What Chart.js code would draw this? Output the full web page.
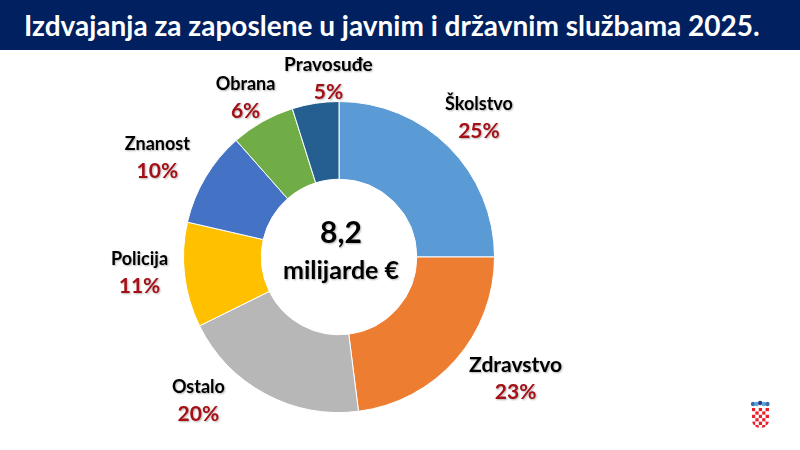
<!DOCTYPE html>
<html>
<head>
<meta charset="utf-8">
<title>Izdvajanja za zaposlene</title>
<script src="https://cdn.jsdelivr.net/npm/chart.js@4"></script>
<style>
  html, body { margin: 0; padding: 0; background: #fff; }
  #wrap { position: relative; width: 800px; height: 450px; overflow: hidden; }
  #header {
    position: absolute; left: 0; top: 0; width: 800px; height: 50px;
    background: #002060; color: #fff; font: bold 28px Lato, sans-serif;
    line-height: 50px; padding-left: 24px; box-sizing: border-box; white-space: nowrap;
  }
  #c { position: absolute; left: 0; top: 0; }
</style>
</head>
<body>
<div id="wrap">
  <canvas id="c" width="800" height="450"></canvas>
  <div id="header">Izdvajanja za zaposlene u javnim i državnim službama 2025.</div>
</div>
<script>
var categories = ['Školstvo', 'Zdravstvo', 'Ostalo', 'Policija', 'Znanost', 'Obrana', 'Pravosuđe'];
// slice sizes as measured on the picture, the printed labels are rounded differently
var sliceValues = [25, 23, 19.7, 10.9, 9.9, 6.65, 4.85];
var percentLabels = ['25%', '23%', '20%', '11%', '10%', '6%', '5%'];
var colors = ['#5b9bd5', '#ed7d31', '#b7b7b7', '#ffc000', '#4472c4', '#70ad47', '#255e91'];
var centerLines = ['8,2', 'milijarde €'];

// label offset from the outer edge of the ring, at the middle of each slice
var labelDx = [30, 60, -67, -45, -48, -17, 13];
var labelDy = [-30, 18, 6, -3, -20, -24, -25];
var labelSize = [18, 21, 18, 18, 18, 18, 19];

// labels and the centre text
var textPlugin = {
  id: 'textPlugin',
  afterDatasetsDraw: function(chart) {
    var ctx = chart.ctx;
    var arcs = chart.getDatasetMeta(0).data;
    ctx.save();
    ctx.textAlign = 'center';
    ctx.textBaseline = 'middle';
    ctx.shadowColor = 'rgba(0,0,0,0.3)';
    ctx.shadowBlur = 2;
    ctx.shadowOffsetX = 1;
    ctx.shadowOffsetY = 1;
    arcs.forEach(function(arc, i) {
      var mid = (arc.startAngle + arc.endAngle) / 2;
      var x = arc.x + Math.cos(mid) * arc.outerRadius + labelDx[i];
      var y = arc.y + Math.sin(mid) * arc.outerRadius + labelDy[i];
      ctx.fillStyle = '#000';
      ctx.font = 'bold ' + labelSize[i] + 'px Lato';
      ctx.fillText(categories[i], x, y - 13);
      ctx.fillStyle = '#a50f15';
      ctx.font = 'bold 21px Lato';
      ctx.fillText(percentLabels[i], x, y + 14);
    });
    var a = arcs[0];
    ctx.fillStyle = '#000';
    ctx.font = 'bold 30px Lato';
    ctx.fillText(centerLines[0], a.x + 2, a.y - 24);
    ctx.font = 'bold 25px Lato';
    ctx.fillText(centerLines[1], a.x + 2, a.y + 14);
    ctx.restore();
  }
};

// little coat of arms in the corner
var arms = {
  id: 'arms',
  afterDraw: function(chart) {
    var ctx = chart.ctx;
    var s = 3.4, x0 = 752, y0 = 408;
    var crown = ['#3c6fa8', '#5aa6d8', '#27408b', '#5aa6d8', '#3c6fa8'];
    ctx.save();
    crown.forEach(function(c, i) {
      ctx.fillStyle = c;
      ctx.beginPath();
      ctx.arc(x0 + 1 + i * 3.6, 404 - (i == 2 ? 1 : 0), 2.2, 0, Math.PI * 2);
      ctx.fill();
    });
    // shield outline, then the checks clipped into it
    ctx.beginPath();
    ctx.moveTo(x0, y0);
    ctx.lineTo(x0 + s * 5, y0);
    ctx.lineTo(x0 + s * 5, y0 + s * 3.5);
    ctx.quadraticCurveTo(x0 + s * 5, y0 + s * 5.5, x0 + s * 2.5, y0 + s * 6);
    ctx.quadraticCurveTo(x0, y0 + s * 5.5, x0, y0 + s * 3.5);
    ctx.closePath();
    ctx.clip();
    for (var row = 0; row < 6; row++) {
      for (var col = 0; col < 5; col++) {
        ctx.fillStyle = (row + col) % 2 == 0 ? '#e8202a' : '#fff';
        ctx.fillRect(x0 + col * s, y0 + row * s, s, s);
      }
    }
    ctx.restore();
  }
};

new Chart(document.getElementById('c').getContext('2d'), {
  type: 'doughnut',
  data: {
    labels: categories,
    datasets: [{
      data: sliceValues,
      backgroundColor: colors,
      borderColor: '#fff',
      borderWidth: 1
    }]
  },
  options: {
    responsive: false,
    animation: false,
    cutout: '50%',
    layout: { padding: { left: 183, right: 305, top: 101, bottom: 37 } },
    plugins: { legend: { display: false }, tooltip: { enabled: false }, title: { display: false } }
  },
  plugins: [textPlugin, arms]
});
</script>
</body>
</html>
